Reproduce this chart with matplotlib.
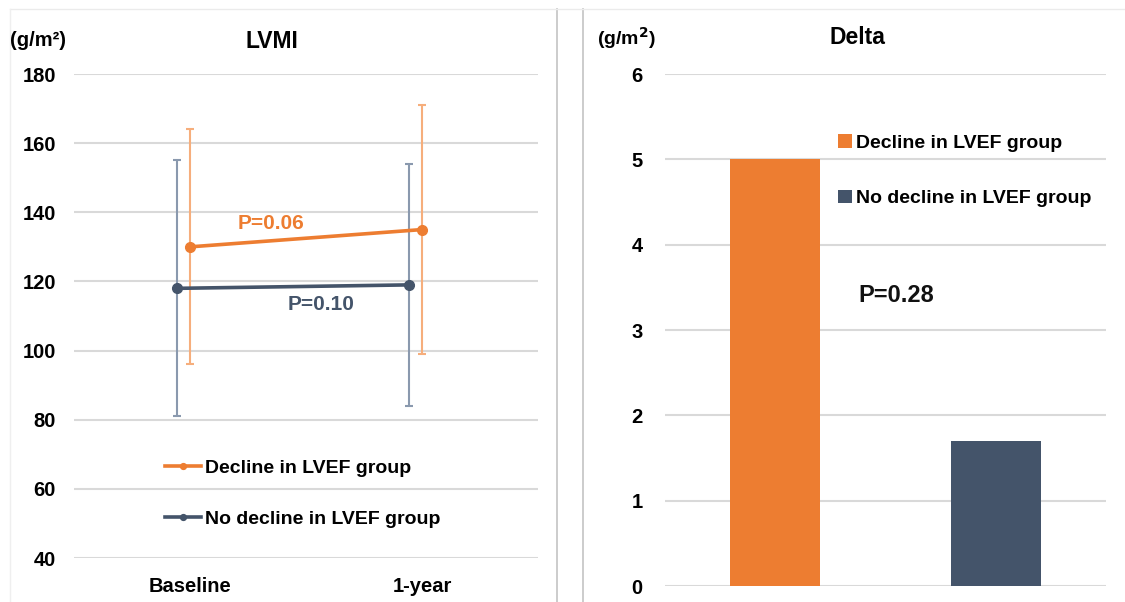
import matplotlib
matplotlib.use("Agg")
import matplotlib.pyplot as plt
from matplotlib.lines import Line2D

plt.rcParams['font.family'] = ['Liberation Sans', 'DejaVu Sans']
plt.rcParams['font.weight'] = 'bold'

# LVMI over time (mean with error range)
timepoints = ["Baseline", "1-year"]
decline_mean = [130, 135]
decline_upper = [164, 171]
decline_lower = [96, 99]
nodecline_mean = [118, 119]
nodecline_upper = [155, 154]
nodecline_lower = [81, 84]
p_decline = "P=0.06"
p_nodecline = "P=0.10"

# Change in LVMI
groups = ["Decline in LVEF group", "No decline in LVEF group"]
delta_values = [5.0, 1.7]
p_delta = "P=0.28"

ORANGE = "#ED7D31"
ORANGE_LIGHT = "#F6AE7C"
NAVY = "#44546A"
NAVY_LIGHT = "#8A99AE"
GRID = "#D9D9D9"

W, H = 1125, 602
fig = plt.figure(figsize=(W / 100, H / 100), dpi=100)


def px_axes(x0, y0, x1, y1):
    return fig.add_axes([x0 / W, 1 - y1 / H, (x1 - x0) / W, (y1 - y0) / H])


# panel frames
for x in (557, 583):
    fig.add_artist(Line2D([x / W, x / W], [0, 1 - 9 / H], color="#C8C8C8", lw=1.3))
fig.add_artist(Line2D([10 / W, 1], [1 - 9 / H, 1 - 9 / H], color="#EBEBEB", lw=1.0))
fig.add_artist(Line2D([10 / W, 10 / W], [0, 1 - 9 / H], color="#EFEFEF", lw=1.0))

# ---------- left: LVMI ----------
ax1 = px_axes(74, 74, 538, 558)
x_dec = [0, 1]
x_nod = [-0.056, 0.944]


def err(mean, lo, hi):
    return [[m - l for m, l in zip(mean, lo)], [h - m for m, h in zip(mean, hi)]]


ax1.errorbar(x_nod, nodecline_mean, yerr=err(nodecline_mean, nodecline_lower, nodecline_upper),
             fmt="none", ecolor=NAVY_LIGHT, elinewidth=1.5, capsize=3, capthick=1.5, zorder=2)
ax1.errorbar(x_dec, decline_mean, yerr=err(decline_mean, decline_lower, decline_upper),
             fmt="none", ecolor=ORANGE_LIGHT, elinewidth=1.5, capsize=3, capthick=1.5, zorder=2)
ln1, = ax1.plot(x_dec, decline_mean, color=ORANGE, lw=2.6, marker="o", ms=7, zorder=4,
                label=groups[0])
ln2, = ax1.plot(x_nod, nodecline_mean, color=NAVY, lw=2.6, marker="o", ms=7, zorder=4,
                label=groups[1])

ax1.text(0.349, 136.9, p_decline, color=ORANGE, fontsize=15, fontweight="bold",
         ha="center", va="center")
ax1.text(0.565, 113.2, p_nodecline, color=NAVY, fontsize=15, fontweight="bold",
         ha="center", va="center")

ax1.set_xlim(-0.5, 1.5)
ax1.set_ylim(40, 180)
ax1.set_yticks(range(40, 181, 20))
ax1.set_xticks([0, 1])
ax1.set_xticklabels(timepoints)
ax1.yaxis.grid(True, color=GRID, lw=1.5)
ax1.set_axisbelow(True)
for s in ax1.spines.values():
    s.set_visible(False)
ax1.tick_params(axis="both", length=0, labelsize=14.5)
ax1.tick_params(axis="y", pad=13)
ax1.tick_params(axis="x", pad=14)
for t in ax1.get_xticklabels() + ax1.get_yticklabels():
    t.set_fontweight("bold")

leg1 = ax1.legend(handles=[ln1, ln2], loc="upper left",
                  bbox_to_anchor=((165 - 74) / 464, (558 - 459) / 484),
                  frameon=False, fontsize=14, handlelength=1.85, handletextpad=0.2,
                  labelspacing=1.75, borderpad=0, borderaxespad=0, markerscale=0.6)
for t in leg1.get_texts():
    t.set_fontweight("bold")

fig.text(10 / W, 1 - 40 / H, "(g/m²)", fontsize=14.5, fontweight="bold", ha="left", va="center")
fig.text(272 / W, 1 - 42 / H, "LVMI", fontsize=16.5, fontweight="bold", ha="center", va="center")

# ---------- right: Delta ----------
ax2 = px_axes(665, 74, 1106, 586)
bars = ax2.bar([0, 1], delta_values, width=0.41, color=[ORANGE, NAVY], zorder=3)
ax2.set_xlim(-0.5, 1.5)
ax2.set_ylim(0, 6)
ax2.set_yticks(range(0, 7))
ax2.set_xticks([])
ax2.yaxis.grid(True, color=GRID, lw=1.5)
ax2.set_axisbelow(True)
for s in ax2.spines.values():
    s.set_visible(False)
ax2.tick_params(axis="both", length=0, labelsize=14.5)
ax2.tick_params(axis="y", pad=16)
for t in ax2.get_yticklabels():
    t.set_fontweight("bold")

ax2.text(0.548, 3.41, p_delta, fontsize=17, fontweight="bold", ha="center", va="center",
         color="#111111")

leg2 = ax2.legend(handles=[bars[0], bars[1]], labels=groups, loc="upper left",
                  bbox_to_anchor=((838 - 665) / 441, (586 - 134) / 512),
                  frameon=False, fontsize=14, handlelength=0.7, handleheight=0.7,
                  handletextpad=0.2, labelspacing=1.95, borderpad=0, borderaxespad=0)
for t in leg2.get_texts():
    t.set_fontweight("bold")

fig.text(597 / W, 1 - 38 / H, "(g/m$^2$)", fontsize=14, fontweight="bold", ha="left", va="center")
fig.text(857 / W, 1 - 38 / H, "Delta", fontsize=16.5, fontweight="bold", ha="center", va="center")

fig.savefig("out.png", dpi=100, facecolor="white")
